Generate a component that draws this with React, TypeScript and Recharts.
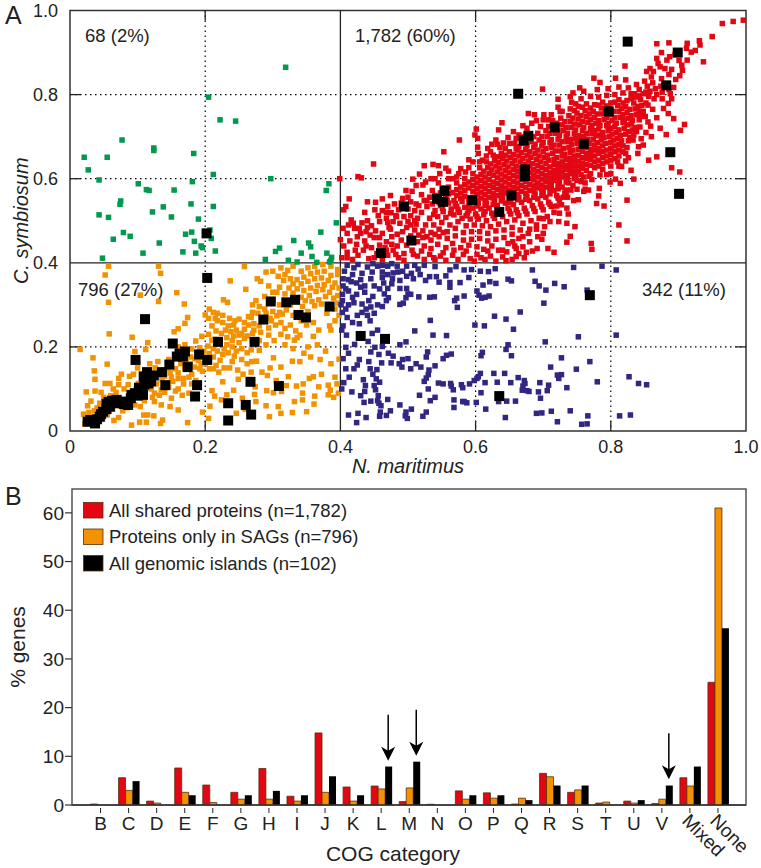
import * as React from "react"
import {
  BarChart,
  Bar,
  CartesianGrid,
  ReferenceArea,
  ReferenceDot,
  ReferenceLine,
  Scatter,
  ScatterChart,
  XAxis,
  YAxis,
} from "recharts"

// panel A, values are thousandths of the identity score
const greenPoints = [
  [319,865],[205,794],[222,740],[245,737],[77,692],[124,673],[124,667],[21,651],[55,651],[183,660],[27,621],[212,610],
  [43,597],[297,600],[101,588],[181,593],[383,588],[379,572],[113,574],[117,572],[154,573],[75,547],[74,539],[179,540],
  [212,534],[138,533],[122,521],[43,514],[57,508],[150,509],[190,504],[394,495],[79,472],[89,463],[64,456],[171,468],
  [180,473],[207,478],[371,473],[184,451],[209,458],[331,453],[132,447],[353,447],[356,438],[194,440],[196,436],[167,426],
  [186,423],[215,428],[108,423],[310,435],[304,427],[342,423],[380,423],[358,415],[48,411],[289,408],[387,413],[386,406],
  [323,406],[336,402],[365,401],[384,402],
]

const blackPoints = [
  [202,470],[825,926],[899,900],[663,802],[882,822],[797,760],[717,722],[678,702],[671,691],[760,683],[888,663],[673,622],
  [673,606],[554,571],[543,552],[552,545],[653,560],[901,564],[595,549],[494,534],[635,521],[505,453],[460,423],[769,323],
  [430,226],[466,219],[635,83],[203,364],[111,266],[297,308],[320,306],[333,312],[384,296],[338,276],[349,270],[286,265],
  [219,212],[273,212],[152,208],[170,189],[158,177],[167,177],[191,182],[203,169],[97,169],[147,158],[174,152],[136,140],
  [114,140],[267,117],[118,125],[116,113],[141,109],[309,107],[188,109],[102,103],[108,86],[91,86],[185,82],[69,74],
  [86,62],[57,69],[234,66],[260,62],[268,39],[234,25],[59,58],[49,46],[44,34],[35,26],[26,22],[37,18],[67,66],[77,70],
  [96,90],[106,101],[113,121],[30,26],[40,28],[46,40],[54,52],[54,64],[62,72],[72,68],[80,64],[90,78],[100,84],[110,110],
  [120,118],[109,130],[124,132],[162,184],
]

const bluePoints = [
  [787,392],[745,389],[808,383],[684,383],[629,386],[607,380],[619,379],[594,384],[583,383],[571,391],[562,383],[556,369],
  [540,391],[542,367],[532,367],[546,354],[562,353],[562,342],[577,353],[590,365],[611,347],[621,355],[630,351],[648,361],
  [653,357],[688,356],[694,345],[704,335],[717,351],[731,343],[765,335],[602,333],[605,323],[609,316],[614,318],[620,321],
  [583,321],[572,316],[569,310],[573,294],[539,319],[532,318],[516,319],[500,326],[504,325],[498,339],[488,339],[470,339],
  [465,326],[471,317],[497,317],[493,304],[488,301],[701,304],[666,283],[628,273],[645,266],[599,252],[613,250],[656,242],
  [752,224],[808,228],[703,212],[648,205],[645,194],[610,187],[608,179],[653,179],[727,174],[769,165],[711,152],[749,147],
  [827,129],[841,113],[853,110],[780,117],[735,103],[727,134],[721,133],[723,125],[708,109],[706,96],[695,115],[693,93],
  [696,78],[663,127],[672,120],[670,107],[669,97],[676,96],[679,94],[673,113],[652,115],[643,137],[627,137],[632,116],
  [614,115],[607,137],[604,129],[602,125],[598,120],[591,112],[608,91],[601,68],[615,52],[646,71],[659,71],[634,70],
  [644,32],[690,42],[698,43],[712,47],[740,48],[721,22],[766,36],[757,16],[765,17],[813,36],[829,38],[583,70],[581,70],
  [587,67],[568,74],[568,56],[564,107],[567,98],[579,110],[581,103],[563,113],[552,112],[545,114],[530,100],[524,118],
  [527,126],[530,134],[519,152],[531,145],[540,155],[552,172],[557,180],[564,183],[529,188],[527,176],[512,160],[500,172],
  [492,170],[487,160],[491,152],[478,178],[471,185],[462,201],[451,199],[457,182],[445,188],[408,199],[421,206],[441,213],
  [447,232],[455,240],[488,205],[497,212],[510,238],[533,263],[537,228],[557,227],[504,148],[517,85],[540,80],[533,72],
  [527,45],[522,35],[505,52],[497,45],[496,36],[499,30],[474,48],[459,45],[468,37],[458,35],[438,32],[426,42],[412,38],
  [424,20],[435,68],[445,71],[455,72],[457,66],[460,60],[470,75],[488,62],[430,84],[436,94],[452,98],[456,84],[417,93],
  [402,100],[450,108],[458,116],[453,124],[448,135],[434,122],[437,108],[444,148],[425,157],[420,148],[408,148],[413,128],
  [405,115],[475,162],[461,162],[454,146],[404,172],[428,170],[442,165],[412,185],[402,240],[404,250],[409,228],[418,258],
  [428,255],[444,262],[440,275],[425,275],[410,270],[403,282],[401,300],[403,310],[412,300],[420,305],[432,302],[445,295],
  [455,300],[462,296],[438,290],[450,280],[403,325],[412,333],[424,325],[436,330],[448,320],[436,345],[450,345],[464,352],
  [477,362],[488,358],[462,365],[445,362],[430,360],[416,355],[404,345],[404,362],[418,372],[432,375],[447,378],[462,378],
  [478,376],[492,380],[505,375],[515,385],[498,368],[485,378],[406,380],[420,388],[440,390],[455,392],[470,392],[484,392],
  [410,394],[426,396],[448,398],[462,394],[476,398],[498,392],[510,394],[524,394],[412,360],[424,352],[470,372],[508,362],
  [518,372],[526,358],[408,338],[430,342],[458,338],[476,350],[418,318],[442,310],[468,310],[408,290],[432,282],
]

const orangePoints = [
  [15,194],[57,392],[52,371],[57,306],[131,392],[134,375],[158,329],[169,302],[131,308],[104,323],[258,391],[237,357],
  [260,337],[227,312],[233,306],[174,270],[170,256],[160,243],[154,236],[58,231],[92,223],[115,210],[112,194],[96,189],
  [34,174],[55,159],[36,143],[37,123],[24,93],[37,95],[31,71],[52,113],[59,113],[72,125],[76,135],[94,135],[101,113],
  [91,14],[103,21],[113,21],[109,38],[115,38],[124,36],[134,18],[137,26],[174,20],[207,59],[214,83],[224,74],[232,86],
  [242,97],[249,123],[226,117],[210,96],[246,42],[259,52],[274,105],[273,87],[291,96],[292,132],[323,129],[301,91],[313,94],
  [308,58],[312,42],[295,34],[329,44],[350,46],[332,70],[344,74],[344,90],[335,107],[362,83],[361,64],[368,105],[382,109],
  [385,97],[382,86],[390,80],[397,90],[360,129],[354,125],[398,171],[329,166],[301,174],[276,166],[269,165],[243,178],
  [22,17],[28,44],[40,55],[48,28],[55,38],[65,25],[72,32],[78,48],[84,55],[63,52],[96,62],[104,58],[110,72],[122,80],
  [132,85],[140,92],[150,78],[160,100],[166,85],[176,90],[152,118],[160,125],[168,112],[176,128],[180,135],[186,120],
  [196,142],[140,130],[148,138],[156,148],[164,160],[172,168],[178,160],[184,152],[190,168],[198,176],[206,184],[192,198],
  [180,195],[170,205],[186,214],[195,225],[205,230],[214,218],[222,208],[228,195],[234,186],[218,190],[212,176],[222,168],
  [216,156],[212,148],[226,182],[204,202],[212,196],[232,205],[240,200],[246,190],[254,196],[262,186],[268,193],[250,210],
  [240,215],[232,222],[242,226],[250,228],[258,220],[224,232],[230,240],[238,236],[246,240],[254,232],[262,226],[270,232],
  [216,238],[210,250],[218,262],[226,258],[236,268],[244,262],[250,266],[258,258],[264,252],[272,240],[264,272],[270,282],
  [280,250],[278,280],[212,282],[226,275],[206,290],[218,280],[200,276],[205,268],[215,268],[234,250],[242,252],[268,270],
  [290,280],[296,268],[288,290],[300,284],[306,274],[298,262],[304,252],[312,258],[318,244],[326,252],[334,238],[340,228],
  [336,222],[332,216],[322,224],[312,230],[294,228],[352,200],[310,282],[320,288],[330,275],[342,262],[350,252],[360,258],
  [368,240],[360,225],[384,250],[386,240],[392,262],[398,275],[280,296],[275,310],[288,320],[300,330],[294,345],[282,356],
  [277,362],[290,378],[300,380],[312,388],[322,382],[330,392],[342,380],[352,388],[362,392],[374,396],[386,392],[396,384],
  [396,372],[386,370],[376,380],[366,378],[356,374],[346,366],[336,360],[326,362],[316,358],[308,368],[318,372],[330,350],
  [342,350],[352,356],[362,362],[372,364],[382,358],[392,352],[398,340],[388,342],[376,348],[366,346],[356,340],[346,334],
  [336,338],[324,340],[310,342],[306,330],[318,326],[330,328],[342,318],[354,322],[364,332],[374,336],[384,330],[396,322],
  [390,316],[378,320],[368,312],[358,308],[348,310],[372,302],[362,298],[380,280],[392,290],[396,304],[352,284],[344,296],
  [314,278],[326,300],[310,300],[300,312],[270,300],[210,216],[198,190],[190,184],[178,176],[160,200],[146,170],[130,165],
  [126,150],[118,160],[100,150],[88,130],[80,100],[68,92],[60,84],[50,80],[44,66],[36,48],[120,100],[128,112],[136,122],
  [146,104],[156,95],[74,60],[82,74],[40,30],[30,24],[185,172],[192,148],[170,150],[160,138],[150,128],[146,146],[135,98],
  [125,90],[168,125],[180,112],[194,160],[200,160],[206,148],[220,140],[228,150],[240,165],[254,170],[262,160],[236,150],
  [248,145],[280,192],[290,205],[280,215],[270,215],[282,235],[272,255],[258,242],[294,245],[302,215],[318,205],[330,196],
  [346,185],[356,176],[370,170],[386,160],[378,190],[366,205],[340,165],[312,152],[296,150],[284,140],[268,140],[256,135],
  [305,120],[320,108],[345,112],[372,135],[392,128],[395,112],[290,60],[275,70],[255,78],[205,30],[196,45],[160,50],
  [148,58],[135,62],[125,70],[110,86],[98,100],[86,110],[72,110],[64,100],[20,40],[26,60],[46,92],
]

const redPoints = [
  [996,977],[981,974],[965,969],[950,938],[931,928],[932,918],[913,922],[886,923],[868,921],[919,901],[912,910],[937,878],
  [913,882],[906,858],[901,881],[887,890],[883,882],[868,886],[870,874],[880,862],[873,866],[858,862],[853,855],[863,855],
  [821,868],[896,836],[893,817],[775,839],[784,829],[807,839],[822,835],[699,813],[722,789],[754,816],[744,804],[399,600],
  [408,534],[413,552],[405,526],[419,494],[416,502],[432,495],[421,482],[436,520],[451,526],[452,544],[449,635],[426,605],
  [431,602],[507,599],[517,611],[524,631],[537,634],[545,631],[556,625],[553,664],[576,692],[599,704],[601,718],[603,696],
  [603,675],[634,716],[639,733],[624,682],[632,682],[641,685],[650,684],[660,696],[678,755],[687,752],[683,732],[701,752],
  [708,740],[497,572],[492,553],[475,519],[483,510],[824,452],[771,446],[772,432],[812,490],[824,549],[790,535],[779,541],
  [782,559],[783,577],[747,486],[740,463],[735,449],[716,425],[707,434],[691,434],[698,456],[735,494],[737,516],[724,518],
  [723,498],[727,538],[752,550],[762,575],[767,573],[741,573],[834,599],[814,589],[807,599],[799,592],[816,629],[784,609],
  [841,676],[833,692],[856,644],[868,652],[890,626],[902,616],[893,743],[909,729],[903,715],[882,705],[873,720],[859,725],
  [851,748],[885,779],[878,767],[885,755],[843,723],[838,712],
  [402,412],[410,425],[418,408],[426,418],[434,430],[442,410],[405,440],[414,452],[424,444],[436,452],[446,436],[454,422],
  [462,408],[470,418],[478,430],[486,412],[494,422],[458,442],[468,450],[476,462],[444,466],[452,476],[462,470],[472,484],
  [484,468],[490,454],[484,440],[498,442],[506,430],[514,416],[524,408],[532,420],[540,408],[548,416],[556,406],[566,418],
  [574,408],[582,420],[592,410],[602,420],[614,408],[622,416],[630,404],[640,414],[646,426],[654,408],[664,422],[672,412],
  [684,428],[504,464],[514,450],[524,440],[534,434],[544,444],[556,436],[566,446],[578,436],[590,442],[602,438],[612,432],
  [624,440],[634,430],[648,446],[658,440],[670,438],[680,450],[692,462],[664,458],[654,468],[642,460],[630,456],[618,452],
  [606,458],[594,456],[582,454],[570,464],[558,458],[546,462],[534,454],[522,460],[510,478],[498,484],[488,494],[500,498],
  [512,492],[522,476],[534,472],[546,480],[558,474],[570,482],[582,472],[594,474],[606,474],[618,470],[630,476],[642,478],
  [654,484],[666,478],[678,470],[690,480],[702,486],[478,498],[468,506],[458,498],[504,512],[514,506],[526,490],[538,490],
  [550,496],[562,490],[574,498],[586,488],[598,490],[610,488],[622,486],[634,492],[646,498],[658,502],[670,494],[682,500],
  [694,506],[706,510],[716,520],[520,520],[532,506],[544,510],[556,508],[568,514],[580,506],[592,504],[604,504],[616,500],
  [628,506],[640,510],[652,516],[664,512],[676,516],[688,522],[700,526],[712,534],[724,548],[736,556],[528,534],[540,524],
  [552,522],[564,528],[576,520],[588,518],[600,516],[612,514],[624,518],[636,524],[648,530],[660,526],[672,530],[684,536],
  [696,540],[708,544],[720,560],[732,566],[512,540],[524,548],[536,540],[548,536],[560,542],[572,534],[584,532],[596,530],
  [608,528],[620,530],[632,536],[644,542],[656,538],[668,544],[680,548],[692,552],[704,556],[716,572],[728,580],[738,590],
  [750,596],[762,590],[772,598],[520,562],[532,556],[544,550],[556,556],[568,548],[580,546],[592,544],[604,542],[616,542],
  [628,548],[640,554],[652,550],[664,556],[676,558],[688,564],[700,568],[712,584],[724,592],[736,600],[748,608],[760,604],
  [770,612],[794,610],[536,572],[548,566],[560,564],[572,560],[584,558],[596,556],[608,554],[620,556],[632,560],[644,566],
  [656,568],[668,570],[680,572],[692,578],[704,580],[716,596],[728,604],[740,612],[752,618],[764,620],[776,626],[788,622],
  [800,630],[545,590],[560,580],[572,574],[584,572],[596,570],[608,568],[620,570],[632,574],[644,578],[656,580],[668,584],
  [680,586],[692,590],[704,594],[716,608],[728,616],[740,624],[752,630],[764,634],[776,640],[788,636],[800,644],[810,640],
  [822,642],[572,590],[584,586],[596,584],[608,582],[620,584],[632,588],[644,592],[656,594],[668,598],[680,600],[692,604],
  [704,608],[716,620],[728,628],[740,636],[752,642],[764,648],[776,654],[788,650],[800,658],[812,654],[822,660],[584,600],
  [596,598],[608,596],[620,598],[632,602],[644,606],[656,608],[668,612],[680,614],[692,618],[704,622],[716,634],[728,640],
  [740,648],[752,656],[764,660],[776,668],[788,664],[800,672],[812,668],[824,674],[596,612],[608,610],[620,612],[632,616],
  [644,620],[656,622],[668,626],[680,628],[692,632],[704,636],[716,646],[728,654],[740,662],[752,670],[764,674],[776,680],
  [788,678],[800,686],[812,682],[826,690],[606,626],[618,626],[630,630],[642,634],[654,636],[666,640],[678,642],[690,646],
  [702,650],[714,660],[726,666],[738,674],[750,684],[762,688],[774,694],[786,692],[798,700],[810,696],[822,706],[834,704],
  [616,640],[628,644],[640,648],[652,650],[664,654],[676,656],[688,660],[700,664],[712,674],[724,680],[736,688],[748,696],
  [760,700],[772,708],[784,704],[796,714],[808,710],[820,720],[832,716],[626,656],[638,660],[650,664],[662,668],[674,670],
  [686,674],[698,678],[710,686],[722,694],[734,700],[746,708],[758,714],[770,720],[782,718],[794,726],[806,724],[818,734],
  [830,730],[842,740],[658,684],[670,684],[682,688],[694,692],[706,700],[718,708],[730,714],[742,722],[754,728],[766,734],
  [778,732],[790,740],[802,738],[814,746],[826,744],[838,752],[848,760],[692,708],[704,714],[716,722],[728,728],[740,736],
  [752,742],[764,748],[776,746],[788,754],[800,752],[812,760],[824,758],[836,766],[846,774],[714,738],[726,744],[738,750],
  [750,756],[762,762],[774,760],[786,768],[798,766],[810,774],[822,772],[834,780],[844,788],[856,796],[728,760],[740,766],
  [752,772],[764,778],[776,776],[788,782],[800,780],[812,788],[824,786],[836,794],[848,802],[858,808],[868,800],[742,782],
  [756,790],[770,796],[782,794],[794,798],[806,800],[818,804],[830,802],[842,812],[854,820],[866,814],[876,806],[888,802],
  [780,812],[796,814],[812,818],[826,816],[838,824],[850,832],[862,828],[874,820],[886,812],[740,795],[760,808],[722,770],
  [430,470],[440,484],[450,460],[410,470],[425,462],[400,455],[404,482],[440,500],[462,524],[470,534],[480,540],[490,530],
  [500,528],[510,524],[474,480],[458,460],[438,474],[466,436],[476,444],[492,474],[504,490],[516,466],[528,462],[540,468],
  [552,472],[516,536],[528,548],[540,560],[552,578],[560,600],[575,612],[585,616],[596,640],[610,644],[622,664],[636,674],
  [572,604],[590,626],[606,640],[616,654],[644,672],[660,672],[672,700],[686,700],[696,724],[708,724],[720,732],[700,740],
  [676,720],[664,704],[560,618],[540,600],[526,592],[512,584],[500,556],[490,542],
  // gaps in the dense core
  [538,515],[551,529],[563,517],[574,527],[586,512],[590,524],[602,510],[614,522],[626,512],[638,517],[650,523],[662,519],
  [674,523],[686,529],[698,533],[710,539],[722,554],[734,561],[546,543],[558,549],[570,541],[578,553],[590,537],[602,535],
  [614,536],[626,539],[638,547],[650,544],[662,550],[674,551],[686,556],[698,560],[710,564],[722,576],[734,573],[744,584],
  [756,593],[566,567],[578,566],[590,550],[602,549],[614,549],[626,554],[638,560],[650,559],[662,563],[674,565],[686,571],
  [698,573],[710,576],[722,586],[734,592],[746,600],[756,610],[768,606],[578,580],[590,578],[602,563],[614,563],[626,565],
  [638,571],[650,573],[662,577],[674,579],[686,583],[698,585],[710,590],[722,600],[734,608],[746,618],[758,625],[770,632],
  [782,630],[590,592],[602,576],[614,577],[626,579],[638,583],[650,586],[662,590],[674,593],[686,597],[698,599],[710,602],
  [722,612],[734,622],[746,630],[758,637],[770,646],[782,644],[794,640],[806,648],[602,590],[614,590],[626,592],[638,597],
  [650,600],[662,604],[674,606],[686,609],[698,612],[710,614],[722,624],[734,632],[746,642],[758,650],[770,658],[782,660],
  [794,654],[806,664],[818,664],[602,604],[614,604],[626,608],[638,611],[650,614],[662,617],[674,620],[686,622],[698,626],
  [710,628],[722,636],[734,646],[746,654],[758,665],[770,670],[782,672],[794,668],[806,678],[818,678],[612,618],[624,621],
  [636,625],[648,628],[660,630],[672,634],[684,636],[696,640],[708,644],[720,650],[732,658],[744,668],[756,677],[768,684],
  [780,686],[792,684],[804,692],[816,690],[828,698],[622,635],[634,638],[646,642],[658,644],[670,648],[682,651],[694,654],
  [706,656],[718,666],[730,672],[742,682],[754,692],[766,694],[778,702],[790,698],[802,706],[814,703],[826,712],[632,652],
  [644,656],[656,658],[668,662],[680,664],[692,668],[704,672],[716,680],[728,688],[740,694],[752,702],[764,708],[776,714],
  [788,710],[800,720],[812,716],[824,728],[836,722],[664,676],[676,678],[688,682],[700,686],[712,693],[724,702],[736,708],
  [748,716],[760,722],[772,726],[784,726],[796,732],[808,732],[820,740],[832,738],[844,748],[698,700],[710,708],[722,714],
  [734,722],[746,730],[758,736],[770,740],[782,738],[794,746],[806,745],[818,752],[830,750],[842,760],[720,730],[732,736],
  [744,744],[756,750],[768,754],[780,754],[792,760],[804,760],[816,767],[828,765],[840,772],[852,780],[746,762],[758,770],
  [770,768],[782,775],[794,773],[806,782],[818,780],[830,790],[842,797],[852,806],[864,790],[876,790],[890,790],[748,778],
  // lower and outer scatter of the cloud
  [410,412],[422,430],[438,440],[450,412],[468,430],[482,420],[494,406],[508,420],[520,428],[538,412],[552,424],[568,430],
  [586,428],[598,404],[608,412],[618,428],[640,430],[660,434],[412,490],[428,482],[446,488],[456,512],[470,496],[482,512],
  [494,510],[510,500],[504,545],[486,526],[468,520],[440,545],[462,552],[474,560],[506,570],[522,585],[534,600],[547,612],
  [566,600],[578,624],[590,645],[604,660],[618,672],[630,692],[648,698],[656,712],[670,726],[690,738],[712,752],[725,760],
  [835,802],[860,842],[875,838],[886,848],[902,845],[890,860],[905,870],[895,895],[875,900],[925,905],[855,775],[862,765],
  [868,745],[855,735],[852,710],[845,695],[860,700],[848,680],[840,660],[826,650],[812,630],[830,620],[800,612],[760,570],
  [750,575],[730,556],[720,535],[735,530],[745,548],[700,505],[710,498],[690,490],[680,480],[700,470],[670,462],[655,450],
  [675,425],[660,415],[645,405],
]

const categories = ["B","C","D","E","F","G","H","I","J","K","L","M","N","O","P","Q","R","S","T","U","V","Mixed","None"]
const sharedValues = [0.2,5.6,0.8,7.6,4.1,2.6,7.5,1.8,14.8,3.7,3.9,0.7,0.15,2.9,2.5,0.2,6.5,2.6,0.4,0.8,0.3,5.6,25.2]
const sagValues = [0,3,0.4,2.6,0.5,1.2,1.2,0.8,2.6,0.8,3.3,3.5,0,1.2,1.4,1.4,5.8,3.1,0.6,0.4,1.2,3.9,61]
const islandValues = [0,4.9,0,2,0,2,2.9,2,5.9,2,7.9,8.9,0,2,2,1,4,4,0,1,4,7.9,36.3]
const arrowCategories = [
  { category: "L", tip: 9.1 },
  { category: "M", tip: 10.1 },
  { category: "V", tip: 5.3 },
]
const legendItems = [
  { label: "All shared proteins (n=1,782)", color: "#e30613" },
  { label: "Proteins only in SAGs (n=796)", color: "#f39200" },
  { label: "All genomic islands (n=102)", color: "#000000" },
]

const gridTicks = [0.2, 0.6, 0.8]
const scatterTicks = [0, 0.2, 0.4, 0.6, 0.8, 1]
const percentTicks = [0, 10, 20, 30, 40, 50, 60]

const FONT = "'Liberation Sans', Arial, sans-serif"
const INK = "#222222"

const toPoints = (pairs: number[][]) => pairs.map(([x, y]) => ({ x: x / 1000, y: y / 1000 }))
const barData = categories.map((name, i) => ({
  name,
  shared: sharedValues[i],
  sag: sagValues[i],
  island: islandValues[i],
}))

const square = (size: number, fill: string) => (props: any) => (
  <rect x={props.cx - size / 2} y={props.cy - size / 2} width={size} height={size} fill={fill} />
)

const scatterTick = (v: number) => (v === 0 ? "0" : v.toFixed(1))

function CogTick({ x, y, payload }: any) {
  const rotated = payload.value.length > 1
  if (rotated) {
    return (
      <g>
        <line x1={x} x2={x} y1={y - 5} y2={y} stroke={INK} />
        <text x={x - 9} y={y + 9} transform={`rotate(45 ${x - 9} ${y + 9})`} fontSize={19} fill={INK} fontFamily={FONT}>
          {payload.value}
        </text>
      </g>
    )
  }
  return (
    <g>
      <line x1={x} x2={x} y1={y - 5} y2={y} stroke={INK} />
      <text x={x} y={y + 17} textAnchor="middle" fontSize={19} fill={INK} fontFamily={FONT}>
        {payload.value}
      </text>
    </g>
  )
}

function ArrowMark({ cx, cy }: any) {
  const x = cx + 7
  return (
    <g>
      <line x1={x} x2={x} y1={cy - 46} y2={cy - 8} stroke="#000" strokeWidth={1.5} />
      <path d={`M${x - 7} ${cy - 14} L${x} ${cy - 10} L${x + 7} ${cy - 14} L${x} ${cy} Z`} fill="#000" />
    </g>
  )
}

function ScatterPanel() {
  const axisText = { fontSize: 18, fill: INK, fontFamily: FONT }
  return (
    <ScatterChart
      width={761}
      height={480}
      margin={{ top: 10.5, right: 15, bottom: 0, left: 0 }}
      style={{ position: "absolute", left: 0, top: 0 }}
    >
      <CartesianGrid
        horizontalValues={gridTicks}
        verticalValues={gridTicks}
        stroke="#000"
        strokeWidth={1.2}
        strokeDasharray="1.5 3.5"
      />
      <XAxis
        type="number"
        dataKey="x"
        domain={[0, 1]}
        ticks={scatterTicks}
        tickFormatter={scatterTick}
        tick={axisText}
        tickLine={false}
        axisLine={false}
        height={49}
        tickMargin={3}
        label={{
          value: "N. maritimus",
          position: "insideBottom",
          offset: 7,
          fontSize: 20,
          fontStyle: "italic",
          fill: INK,
          fontFamily: FONT,
        }}
      />
      <YAxis
        type="number"
        dataKey="y"
        domain={[0, 1]}
        ticks={scatterTicks}
        tickFormatter={scatterTick}
        tick={axisText}
        tickLine={false}
        axisLine={false}
        width={70}
        tickMargin={6}
        label={{
          value: "C. symbiosum",
          angle: -90,
          position: "insideLeft",
          offset: 21,
          fontSize: 20,
          fontStyle: "italic",
          fill: INK,
          fontFamily: FONT,
          style: { textAnchor: "middle" },
        }}
      />
      <Scatter data={toPoints(redPoints)} shape={square(5.5, "#e30613")} isAnimationActive={false} />
      <Scatter data={toPoints(orangePoints)} shape={square(5.5, "#f39200")} isAnimationActive={false} />
      <Scatter data={toPoints(bluePoints)} shape={square(5.5, "#312783")} isAnimationActive={false} />
      <Scatter data={toPoints(greenPoints)} shape={square(5.5, "#009a4e")} isAnimationActive={false} />
      <Scatter data={toPoints(blackPoints)} shape={square(10, "#000000")} isAnimationActive={false} />
      <ReferenceLine x={0.4} stroke={INK} strokeWidth={1.3} />
      <ReferenceLine y={0.4} stroke={INK} strokeWidth={1.3} />
      {gridTicks.map((t) => (
        <ReferenceLine key={`xb${t}`} segment={[{ x: t, y: 0 }, { x: t, y: 0.024 }]} stroke={INK} strokeWidth={1.3} />
      ))}
      {gridTicks.map((t) => (
        <ReferenceLine key={`xt${t}`} segment={[{ x: t, y: 1 }, { x: t, y: 0.976 }]} stroke={INK} strokeWidth={1.3} />
      ))}
      {gridTicks.map((t) => (
        <ReferenceLine key={`yl${t}`} segment={[{ x: 0, y: t }, { x: 0.015, y: t }]} stroke={INK} strokeWidth={1.3} />
      ))}
      {gridTicks.map((t) => (
        <ReferenceLine key={`yr${t}`} segment={[{ x: 1, y: t }, { x: 0.985, y: t }]} stroke={INK} strokeWidth={1.3} />
      ))}
      <ReferenceArea x1={0} x2={1} y1={0} y2={1} fill="none" stroke="#333" strokeWidth={1.5} fillOpacity={0} />
      <text x={85} y={42} fontSize={18.5} fill={INK} fontFamily={FONT}>68 (2%)</text>
      <text x={355} y={42} fontSize={18.5} fill={INK} fontFamily={FONT}>1,782 (60%)</text>
      <text x={78} y={296} fontSize={18.5} fill={INK} fontFamily={FONT}>796 (27%)</text>
      <text x={642} y={296} fontSize={18.5} fill={INK} fontFamily={FONT}>342 (11%)</text>
      <text x={5} y={24} fontSize={25} fill={INK} fontFamily={FONT}>A</text>
    </ScatterChart>
  )
}

function BarPanel() {
  const outline = { stroke: "#5a2d0c", strokeWidth: 0.8 }
  return (
    <BarChart
      width={761}
      height={388}
      data={barData}
      margin={{ top: 9, right: 15, bottom: 0, left: 0 }}
      barSize={7}
      barGap={0}
      style={{ position: "absolute", left: 0, top: 480 }}
    >
      <XAxis
        dataKey="name"
        interval={0}
        padding={{ left: 14.5, right: 14 }}
        tick={<CogTick />}
        tickLine={false}
        axisLine={{ stroke: "#333", strokeWidth: 1.5 }}
        height={63}
        label={{ value: "COG category", position: "insideBottom", offset: 7, dx: -16, fontSize: 21, fill: INK, fontFamily: FONT }}
      />
      <YAxis
        domain={[0, 64.9]}
        ticks={percentTicks}
        tick={{ fontSize: 19, fill: INK, fontFamily: FONT }}
        tickLine={{ stroke: "#333", strokeWidth: 1.2 }}
        tickSize={7}
        tickMargin={1}
        axisLine={false}
        width={72}
        allowDataOverflow
        label={{
          value: "% genes",
          angle: -90,
          position: "insideLeft",
          offset: 18,
          fontSize: 21,
          fill: INK,
          fontFamily: FONT,
          style: { textAnchor: "middle" },
        }}
      />
      <Bar dataKey="shared" fill="#e30613" {...outline} isAnimationActive={false} />
      <Bar dataKey="sag" fill="#f39200" {...outline} isAnimationActive={false} />
      <Bar dataKey="island" fill="#000000" isAnimationActive={false} />
      {arrowCategories.map((a) => (
        <ReferenceDot key={a.category} x={a.category} y={a.tip} r={0} shape={<ArrowMark />} />
      ))}
      <rect x={72} y={9} width={674} height={316} fill="none" stroke="#555" strokeWidth={1.5} />
      {legendItems.map((item, i) => (
        <g key={item.label}>
          <rect x={83.5} y={22.5 + i * 26.5} width={19.5} height={15.5} fill={item.color} stroke="#5a2d0c" strokeWidth={0.8} />
          <text x={109} y={36.5 + i * 26.5} fontSize={18.5} fill={INK} fontFamily={FONT}>{item.label}</text>
        </g>
      ))}
      <text x={5} y={25} fontSize={25} fill={INK} fontFamily={FONT}>B</text>
    </BarChart>
  )
}

export default function App() {
  return (
    <div style={{ position: "absolute", left: 0, top: 0, width: 761, height: 868, background: "#fff" }}>
      <ScatterPanel />
      <BarPanel />
    </div>
  )
}
